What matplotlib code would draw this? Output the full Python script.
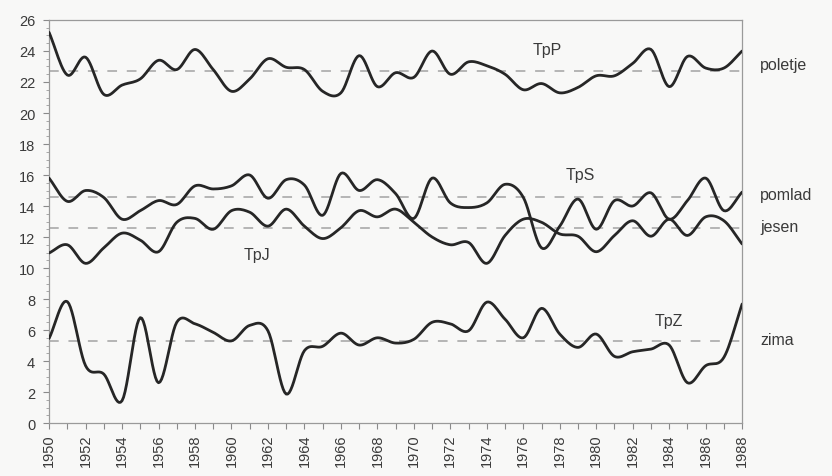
import numpy as np
import matplotlib
matplotlib.use('Agg')
import matplotlib.pyplot as plt
from matplotlib.ticker import MultipleLocator

# Seasonal mean temperatures, 1950-1988
years = np.arange(1950, 1989)

tp_poletje = [25.2, 22.45, 23.6, 21.2, 21.8, 22.2, 23.4, 22.8, 24.1, 22.8,
              21.4, 22.2, 23.5, 22.95, 22.8, 21.4, 21.3, 23.7, 21.7, 22.6,
              22.3, 24.0, 22.5, 23.3, 23.05, 22.5, 21.5, 21.9, 21.3, 21.65,
              22.4, 22.4, 23.2, 24.1, 21.7, 23.65, 22.9, 22.9, 24.0]

tp_pomlad = [15.8, 14.3, 15.0, 14.55, 13.15, 13.7, 14.35, 14.1, 15.3, 15.1,
             15.3, 16.0, 14.5, 15.7, 15.35, 13.4, 16.1, 15.0, 15.7, 14.8,
             13.2, 15.8, 14.2, 13.9, 14.2, 15.4, 14.56, 11.3, 12.7, 14.45,
             12.5, 14.35, 14.0, 14.85, 13.15, 14.35, 15.8, 13.7, 14.9]

tp_jesen = [10.97, 11.5, 10.3, 11.3, 12.25, 11.8, 11.05, 12.95, 13.2, 12.5,
            13.7, 13.6, 12.7, 13.8, 12.7, 11.9, 12.6, 13.7, 13.3, 13.8,
            12.95, 12.0, 11.5, 11.65, 10.3, 12.1, 13.15, 12.95, 12.2, 12.05,
            11.05, 12.1, 13.05, 12.05, 13.15, 12.1, 13.3, 13.05, 11.55]

tp_zima = [5.46, 7.83, 3.7, 3.16, 1.44, 6.8, 2.6, 6.5, 6.4, 5.85,
           5.3, 6.3, 5.95, 1.87, 4.67, 4.95, 5.8, 5.03, 5.5, 5.16,
           5.4, 6.5, 6.4, 5.95, 7.8, 6.7, 5.5, 7.4, 5.74, 4.88,
           5.74, 4.3, 4.6, 4.77, 5.03, 2.6, 3.7, 4.24, 7.68]

series_names = ['TpP', 'TpS', 'TpJ', 'TpZ']
season_labels = ['poletje', 'pomlad', 'jesen', 'zima']
mean_values = [22.7, 14.56, 12.56, 5.31]


def smooth(x, y, n=12):
    """Catmull-Rom curve through the points, like a spreadsheet 'smoothed line'."""
    x = np.asarray(x, float)
    y = np.asarray(y, float)
    px = np.concatenate([[2 * x[0] - x[1]], x, [2 * x[-1] - x[-2]]])
    py = np.concatenate([[2 * y[0] - y[1]], y, [2 * y[-1] - y[-2]]])
    t = np.linspace(0, 1, n, endpoint=False)
    xs, ys = [], []
    for i in range(1, len(px) - 2):
        for p, out in ((px, xs), (py, ys)):
            p0, p1, p2, p3 = p[i - 1], p[i], p[i + 1], p[i + 2]
            out.extend(0.5 * (2 * p1 + (-p0 + p2) * t
                              + (2 * p0 - 5 * p1 + 4 * p2 - p3) * t ** 2
                              + (-p0 + 3 * p1 - 3 * p2 + p3) * t ** 3))
    xs.append(x[-1])
    ys.append(y[-1])
    return np.array(xs), np.array(ys)


plt.rcParams['font.family'] = ['Liberation Sans', 'DejaVu Sans']

fig = plt.figure(figsize=(8.32, 4.77), dpi=100, facecolor='#f8f8f7')
ax = fig.add_axes([0.059, 0.111, 0.833, 0.845])
ax.set_facecolor('#f8f8f7')

line_col = '#262626'
text_col = '#3a3a3a'

# dashed long-term means
for m in mean_values:
    ax.plot([years[0], years[-1]], [m, m], color='#b5b5b5', lw=1.4,
            dashes=(5, 5), zorder=1)

for vals in (tp_poletje, tp_pomlad, tp_jesen, tp_zima):
    sx, sy = smooth(years, vals)
    ax.plot(sx, sy, color=line_col, lw=2.0, solid_capstyle='round', zorder=3)

# series names inside the plot
name_pos = [(1977.3, 24.1), (1979.1, 16.05), (1961.4, 10.9), (1984.0, 6.6)]
for name, (xv, yv) in zip(series_names, name_pos):
    ax.text(xv, yv, name, fontsize=11.5, color=text_col, ha='center', va='center')

# season names to the right of the frame
label_y = [23.15, 14.75, 12.65, 5.4]
for lbl, yv in zip(season_labels, label_y):
    ax.text(1989.0, yv, lbl, fontsize=11.5, color=text_col, ha='left', va='center',
            clip_on=False)

ax.set_xlim(1950, 1988)
ax.set_ylim(0, 26)
ax.set_xticks(years)
ax.set_xticklabels([str(y) if y % 2 == 0 else '' for y in years], rotation=90)
ax.yaxis.set_major_locator(MultipleLocator(2))
ax.yaxis.set_minor_locator(MultipleLocator(0.5))

ax.tick_params(axis='both', which='major', labelsize=10.5, colors='#8a8a8a',
               labelcolor=text_col, length=4, width=0.8)
ax.tick_params(axis='y', which='minor', length=2, width=0.6, colors='#9a9a9a')
ax.tick_params(axis='y', pad=6)

for side in ('left', 'bottom', 'top', 'right'):
    ax.spines[side].set_color('#9a9a9a')
    ax.spines[side].set_linewidth(0.9)

fig.savefig('out.png', dpi=100, facecolor=fig.get_facecolor())
